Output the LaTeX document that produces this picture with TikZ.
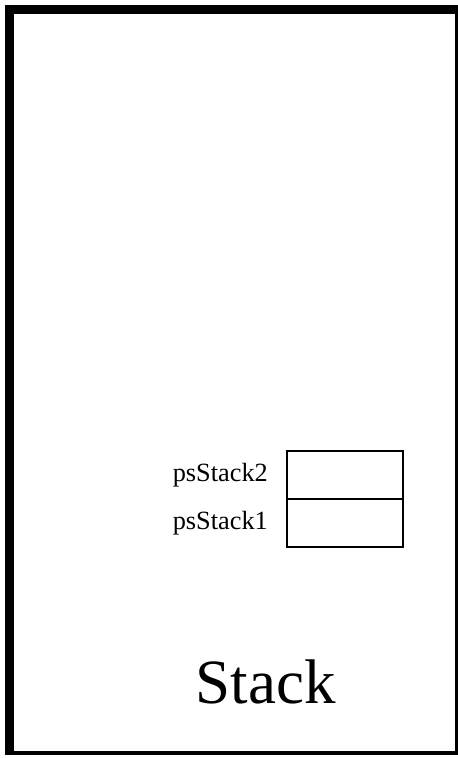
\documentclass[tikz,border=0pt]{standalone}
\usepackage{fontspec}
\setmainfont{Liberation Serif}
\begin{document}
\begin{tikzpicture}[x=1pt,y=-1pt,
  cell/.style={draw=black,line width=1.5pt,minimum width=116pt,minimum height=48pt,inner sep=0pt,anchor=north west},
  lbl/.style={anchor=east,inner sep=0pt,font=\fontsize{26.3}{30}\selectfont},
  band/.style={fill=black}]
\useasboundingbox (0,0) rectangle (458,758);
% frame
\fill[band] (5,5) rectangle (14,755);
\fill[band] (5,5) rectangle (458,14);
\fill[band] (455,5) rectangle (458,755);
\fill[band] (5,751) rectangle (458,755);
% stack cells
\node[cell] (s2) at (286,450) {};
\node[cell] (s1) at (286,498) {};
\node[lbl] (l2) at (268,475) {psStack2};
\node[lbl] (l1) at (268,523) {psStack1};
\node[inner sep=0pt,anchor=base,font=\fontsize{63}{72}\selectfont] (title) at (265.5,703) {Stack};
\end{tikzpicture}
\end{document}
